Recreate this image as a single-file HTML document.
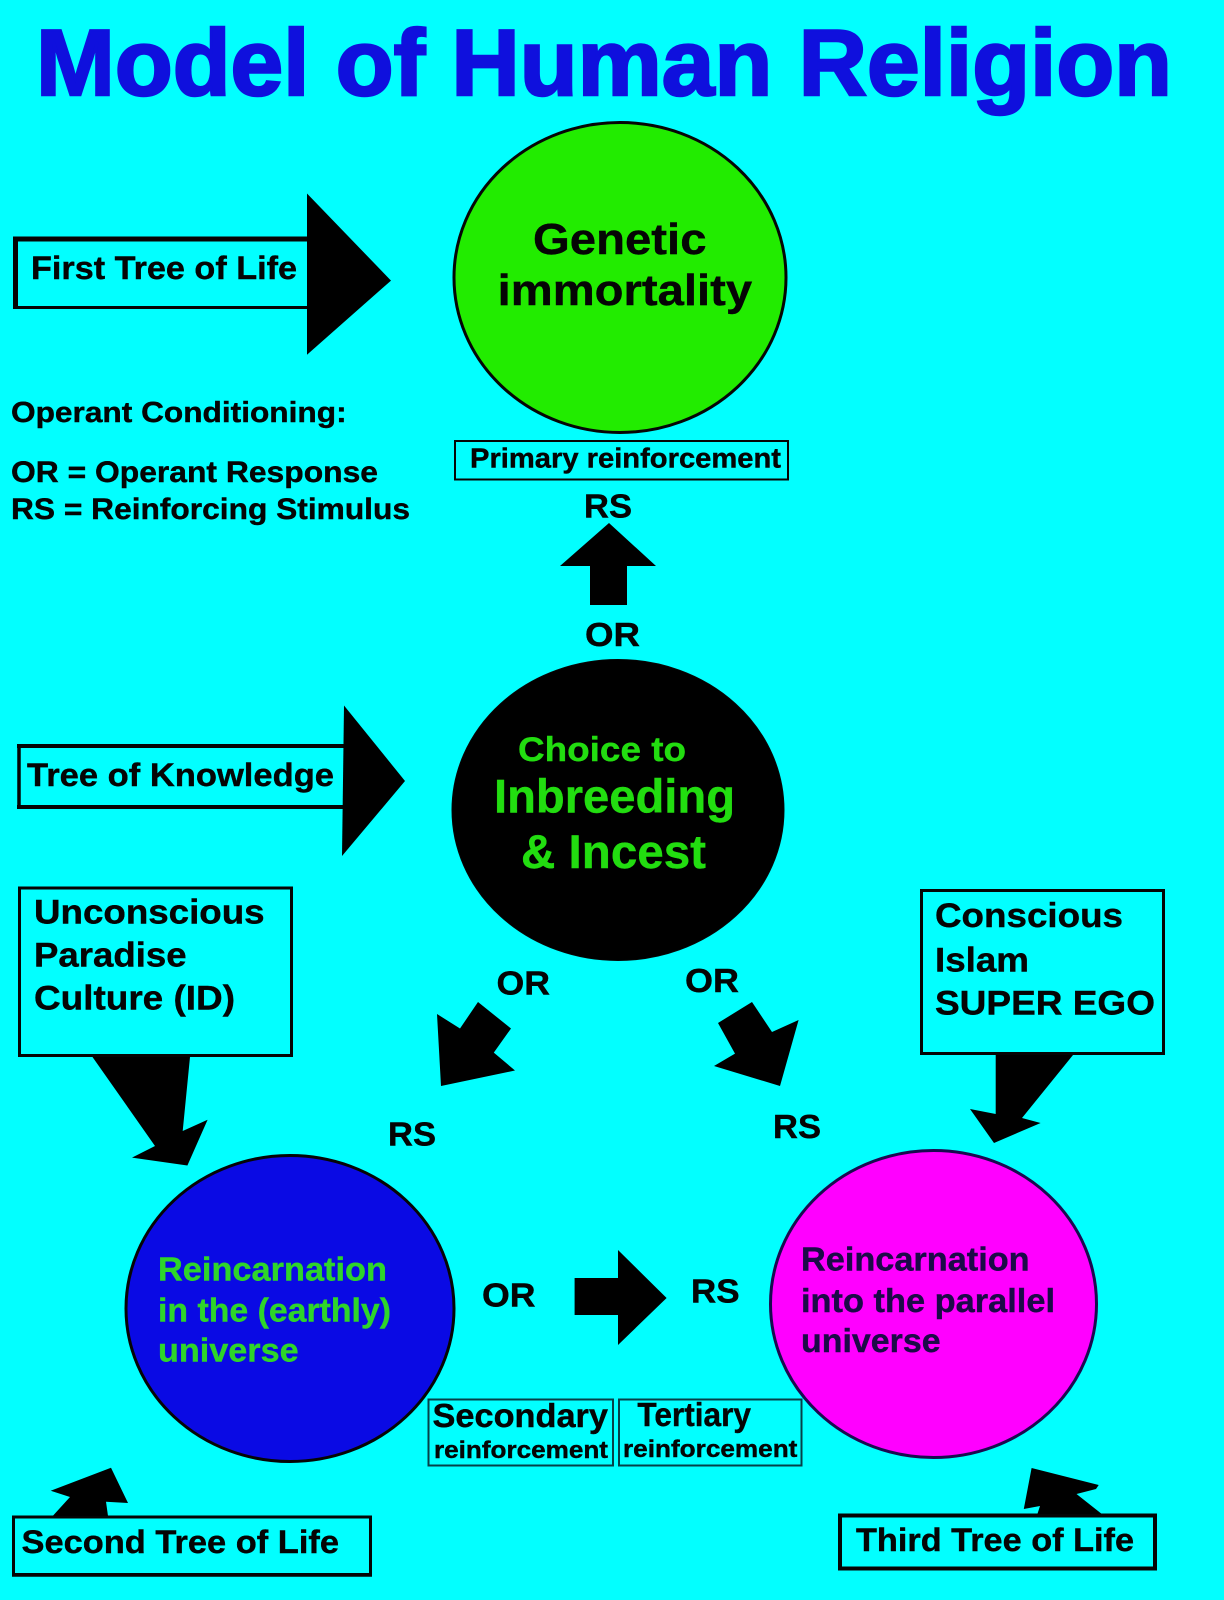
<!DOCTYPE html>
<html><head><meta charset="utf-8"><title>Model of Human Religion</title>
<style>
html,body{margin:0;padding:0;background:#02ffff;}
svg{display:block;}
text{font-family:"Liberation Sans",Arial,sans-serif;font-weight:700;fill:#050505;stroke:#050505;stroke-width:.4;}
</style></head><body>
<svg width="1224" height="1600" viewBox="0 0 1224 1600" xmlns="http://www.w3.org/2000/svg">
<rect width="1224" height="1600" fill="#02ffff"/>
<text x="36" y="95" font-size="94" textLength="1136" lengthAdjust="spacingAndGlyphs" style="fill:#0f10dd;stroke:#0f10dd;stroke-width:2.5">Model of Human Religion</text>

<g stroke="#050505">
<ellipse cx="620" cy="277.5" rx="166" ry="155" fill="#22ec00" stroke-width="3"/>
<ellipse cx="618" cy="810" rx="166" ry="150.5" fill="#000"/>
<ellipse cx="290" cy="1308.5" rx="164" ry="153" fill="#0a0ae4" stroke-width="3"/>
<ellipse cx="933.5" cy="1304" rx="163" ry="153.5" fill="#ff00ff" stroke="#1a0a50" stroke-width="3"/>
</g>

<!-- boxes -->
<g fill="none" stroke="#050505">
<path d="M15.5 239H310M15.5 236.5V309" stroke-width="5"/>
<path d="M13 307.5H310" stroke-width="3"/>
<path d="M19 744V809" stroke-width="3.5"/>
<path d="M17 746H345" stroke-width="4"/>
<path d="M17 807H345" stroke-width="4"/>
<rect x="19.5" y="888" width="272" height="167.5" stroke-width="3"/>
<rect x="921.5" y="890.5" width="242" height="163" stroke-width="3"/>
<rect x="13.5" y="1517" width="357" height="57.5" stroke-width="3"/>
<path d="M12 1575H372" stroke-width="3.5"/>
<rect x="840" y="1515.5" width="315" height="53" stroke-width="4"/>
<rect x="455" y="441" width="333" height="38.5" stroke-width="2"/>
<rect x="428.5" y="1399.5" width="184.5" height="66" stroke-width="2" stroke="#064048"/>
<rect x="619" y="1399.5" width="182.5" height="66" stroke-width="2" stroke="#064048"/>
</g>

<!-- arrows -->
<g fill="#000">
<polygon points="307,193.5 391,280.6 307,354.7"/>
<polygon points="344,705.5 405,781 342,856"/>
<polygon points="609,523 656,566 627,566 627,605 590,605 590,566 560,566"/>
<polygon points="92.5,1057 190,1057 182.7,1131 207.6,1119.7 187.4,1165.5 132,1157.6 155,1146"/>
<polygon points="478,1002 511,1028.5 493.8,1052.6 515,1070.5 441,1086 437,1014 460,1028.5"/>
<polygon points="752,1002 772,1032 798.6,1020 780,1086 714,1066 735,1053.6 718,1023"/>
<polygon points="995.7,1055 1073,1055 1022,1118 1040.6,1123 994,1143 970,1109 995.7,1114"/>
<polygon points="574.6,1278 618,1278 618,1250 666.6,1298 618,1345 618,1315 574.6,1315"/>
<polygon points="52.7,1516 70,1497 50.7,1490.7 111,1467.7 128,1503 106,1501.7 108,1516"/>
<polygon points="1037.4,1514 1040,1506 1023.8,1509 1031.6,1468 1098.7,1485 1096,1489 1076.5,1494 1101.8,1514"/>
</g>

<!-- labels -->
<text x="533" y="254" font-size="44" textLength="173.5" lengthAdjust="spacingAndGlyphs">Genetic</text>
<text x="497.6" y="305" font-size="44" textLength="254.5" lengthAdjust="spacingAndGlyphs">immortality</text>
<text x="31" y="279" font-size="32" textLength="266" lengthAdjust="spacingAndGlyphs">First Tree of Life</text>
<text x="11" y="422" font-size="29" textLength="335.6" lengthAdjust="spacingAndGlyphs">Operant Conditioning:</text>
<text x="11" y="482" font-size="30" textLength="367" lengthAdjust="spacingAndGlyphs">OR = Operant Response</text>
<text x="11" y="519" font-size="30" textLength="399" lengthAdjust="spacingAndGlyphs">RS = Reinforcing Stimulus</text>
<text x="470" y="467.6" font-size="28" textLength="311" lengthAdjust="spacingAndGlyphs">Primary reinforcement</text>
<text x="584" y="517.6" font-size="33.5" textLength="48" lengthAdjust="spacingAndGlyphs">RS</text>
<text x="585" y="646" font-size="33.5" textLength="55" lengthAdjust="spacingAndGlyphs">OR</text>

<text x="518" y="761" font-size="34.5" textLength="168" lengthAdjust="spacingAndGlyphs" style="fill:#22dd10;stroke:#22dd10">Choice to</text>
<text x="494" y="812.5" font-size="47" textLength="241" lengthAdjust="spacingAndGlyphs" style="fill:#22dd10;stroke:#22dd10">Inbreeding</text>
<text x="521" y="868" font-size="47" textLength="185" lengthAdjust="spacingAndGlyphs" style="fill:#22dd10;stroke:#22dd10">&amp; Incest</text>
<text x="158" y="1280.7" font-size="33" textLength="229" lengthAdjust="spacingAndGlyphs" style="fill:#2ed52a;stroke:#2ed52a">Reincarnation</text>
<text x="158" y="1321.7" font-size="33" textLength="233" lengthAdjust="spacingAndGlyphs" style="fill:#2ed52a;stroke:#2ed52a">in the (earthly)</text>
<text x="158" y="1361.7" font-size="33" textLength="140.6" lengthAdjust="spacingAndGlyphs" style="fill:#2ed52a;stroke:#2ed52a">universe</text>

<text x="27" y="786" font-size="32" textLength="307" lengthAdjust="spacingAndGlyphs">Tree of Knowledge</text>
<text x="34" y="923.4" font-size="34.5" textLength="230.6" lengthAdjust="spacingAndGlyphs">Unconscious</text>
<text x="34" y="966.5" font-size="34.5" textLength="152.6" lengthAdjust="spacingAndGlyphs">Paradise</text>
<text x="34" y="1009.5" font-size="34.5" textLength="201" lengthAdjust="spacingAndGlyphs">Culture (ID)</text>
<text x="496.5" y="994.7" font-size="33.5" textLength="53.5" lengthAdjust="spacingAndGlyphs">OR</text>
<text x="388" y="1145.5" font-size="33.5" textLength="48" lengthAdjust="spacingAndGlyphs">RS</text>
<text x="685" y="992" font-size="33.5" textLength="54" lengthAdjust="spacingAndGlyphs">OR</text>
<text x="773" y="1138" font-size="33.5" textLength="48" lengthAdjust="spacingAndGlyphs">RS</text>
<text x="935" y="927" font-size="34.5" textLength="188" lengthAdjust="spacingAndGlyphs">Conscious</text>
<text x="935" y="971.6" font-size="34.5" textLength="94" lengthAdjust="spacingAndGlyphs">Islam</text>
<text x="935" y="1014.7" font-size="34.5" textLength="220" lengthAdjust="spacingAndGlyphs">SUPER EGO</text>
<text x="482" y="1306.7" font-size="33.5" textLength="53.5" lengthAdjust="spacingAndGlyphs">OR</text>
<text x="691" y="1302.7" font-size="33.5" textLength="48.6" lengthAdjust="spacingAndGlyphs">RS</text>
<text x="801" y="1270.7" font-size="33" textLength="228.6" lengthAdjust="spacingAndGlyphs" style="fill:#1c0a48;stroke:#1c0a48">Reincarnation</text>
<text x="801" y="1312" font-size="33" textLength="254" lengthAdjust="spacingAndGlyphs" style="fill:#1c0a48;stroke:#1c0a48">into the parallel</text>
<text x="801" y="1352" font-size="33" textLength="139.6" lengthAdjust="spacingAndGlyphs" style="fill:#1c0a48;stroke:#1c0a48">universe</text>
<text x="432.5" y="1427" font-size="33" textLength="175.5" lengthAdjust="spacingAndGlyphs">Secondary</text>
<text x="434" y="1458" font-size="24" textLength="174" lengthAdjust="spacingAndGlyphs">reinforcement</text>
<text x="637.4" y="1426" font-size="33" textLength="113.6" lengthAdjust="spacingAndGlyphs">Tertiary</text>
<text x="623" y="1457" font-size="24" textLength="174.4" lengthAdjust="spacingAndGlyphs">reinforcement</text>
<text x="21.5" y="1553" font-size="32" textLength="317.5" lengthAdjust="spacingAndGlyphs">Second Tree of Life</text>
<text x="856" y="1551" font-size="32" textLength="278" lengthAdjust="spacingAndGlyphs">Third Tree of Life</text>
</svg>
</body></html>
